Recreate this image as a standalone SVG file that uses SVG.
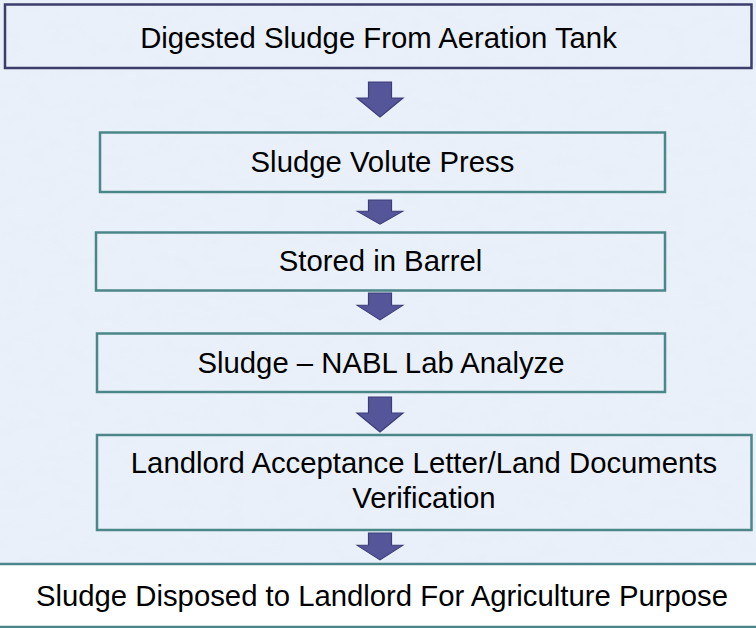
<svg xmlns="http://www.w3.org/2000/svg" width="756" height="628" viewBox="0 0 756 628">
  <defs>
    <!-- mottled tissue-paper texture for the backdrop -->
    <filter id="paper" x="0" y="0" width="100%" height="100%">
      <feTurbulence type="fractalNoise" baseFrequency="0.045 0.09" numOctaves="3" seed="7" result="n"/>
      <feColorMatrix in="n" type="matrix" values="0 0 0 0 0.78  0 0 0 0 0.84  0 0 0 0 0.93  0 0 0 1.6 -0.75"/>
    </filter>
    <path id="arrow" d="M-11.5,0 H11.5 V16 H23 L0,35 L-23,16 H-11.5 Z"/>
  </defs>
  <style>
    .lbl { font-family: "Liberation Sans", Arial, sans-serif; font-size: 29.3px; fill: #000; text-anchor: middle; }
    .box { fill: none; stroke: #4b8788; stroke-width: 2.5; }
    .top { fill: none; stroke: #3d3d6b; stroke-width: 2.5; }
    .arr { fill: #55559a; stroke: #3c3c78; stroke-width: 1.2; stroke-linejoin: miter; }
  </style>

  <!-- backdrop -->
  <rect x="0" y="0" width="756" height="628" fill="#e9f0f9"/>
  <rect x="0" y="0" width="756" height="628" filter="url(#paper)" opacity="0.55"/>

  <g id="connectors">
    <use href="#arrow" class="arr" transform="translate(380,82) scale(1,1)"/>
    <use href="#arrow" class="arr" transform="translate(380,200) scale(1,0.69)"/>
    <use href="#arrow" class="arr" transform="translate(380,293) scale(1,0.77)"/>
    <use href="#arrow" class="arr" transform="translate(380,397) scale(1,1)"/>
    <use href="#arrow" class="arr" transform="translate(380,533) scale(1,0.77)"/>
  </g>

  <g id="digested-sludge">
    <rect class="top" x="5" y="4.5" width="746.5" height="63.5"/>
    <text class="lbl" x="378.5" y="48">Digested Sludge From Aeration Tank</text>
  </g>

  <g id="volute-press">
    <rect class="box" x="100" y="132.5" width="565" height="59.5"/>
    <text class="lbl" x="382.5" y="171.5">Sludge Volute Press</text>
  </g>

  <g id="barrel">
    <rect class="box" x="96" y="232.5" width="569" height="58"/>
    <text class="lbl" x="380.5" y="271">Stored in Barrel</text>
  </g>

  <g id="lab-analyze">
    <rect class="box" x="97" y="333.5" width="568" height="58.5"/>
    <text class="lbl" x="381" y="373">Sludge – NABL Lab Analyze</text>
  </g>

  <g id="verification">
    <rect class="box" x="97" y="435" width="654.5" height="95"/>
    <text class="lbl" x="424" y="473">Landlord Acceptance Letter/Land Documents</text>
    <text class="lbl" x="424" y="508">Verification</text>
  </g>

  <g id="disposal">
    <rect x="-5" y="564" width="766" height="63" fill="#ffffff" stroke="#4b8788" stroke-width="2.5"/>
    <text class="lbl" x="382" y="606">Sludge Disposed to Landlord For Agriculture Purpose</text>
  </g>
</svg>
